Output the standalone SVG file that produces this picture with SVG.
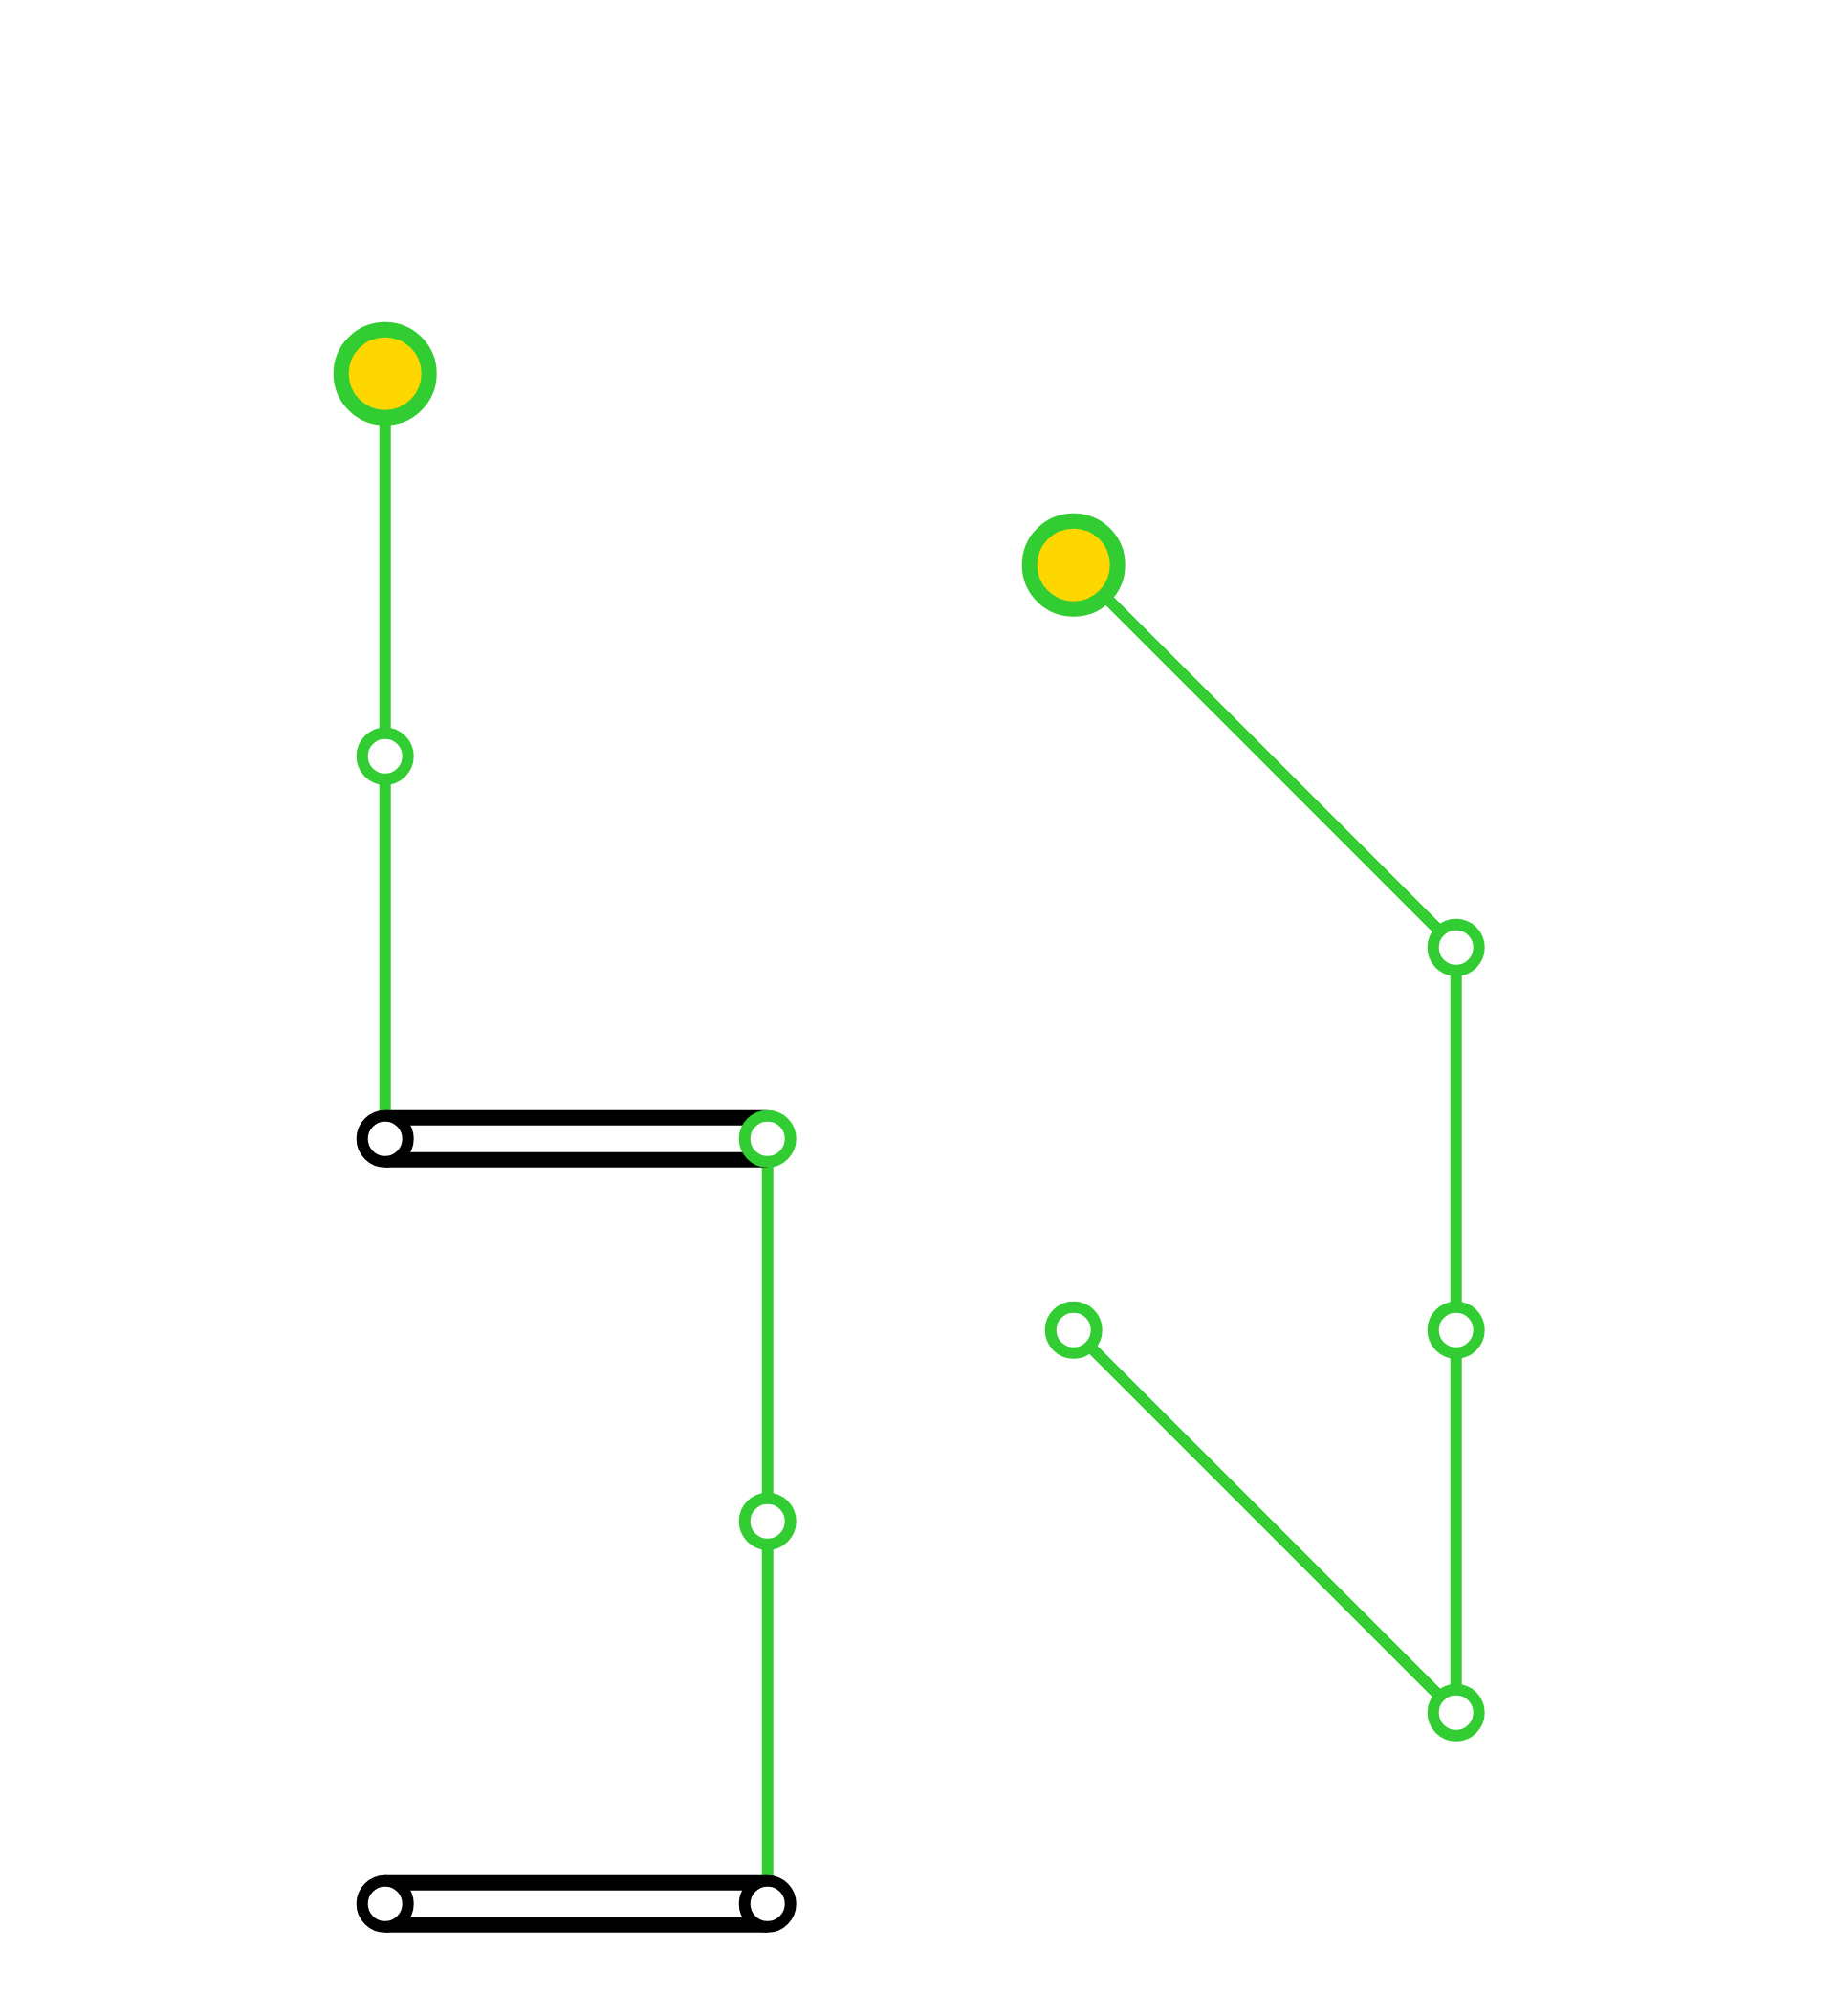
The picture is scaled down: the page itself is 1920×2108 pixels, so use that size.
<svg xmlns="http://www.w3.org/2000/svg" width="1920" height="2108" viewBox="0 0 1920 2108">
<style>
.g{stroke:#32CD32;stroke-width:12;fill:none}
.bo{stroke:#000;stroke-width:60;fill:none}
.bi{stroke:#fff;stroke-width:28;fill:none}
.big{fill:#FFD700;stroke:#32CD32;stroke-width:16}
.sg{fill:#fff;stroke:#32CD32;stroke-width:12}
.sb{fill:#fff;stroke:#000;stroke-width:12}
</style>
<rect width="1920" height="2108" fill="#fff"/>
<g id="connectors">
<path class="g" d="M402.7 390.7V1190.7"/>
<path class="g" d="M802.7 1190.7V1990.7"/>
<path class="g" d="M1122.7 590.7L1522.7 990.7V1790.7"/>
<path class="g" d="M1122.7 1390.7L1522.7 1790.7"/>
<path class="bo" d="M402.7 1190.7H802.7"/>
<path class="bi" d="M402.7 1190.7H802.7"/>
<path class="bo" d="M402.7 1990.7H802.7"/>
<path class="bi" d="M402.7 1990.7H802.7"/>
</g>
<g id="n1"><circle class="big" cx="402.7" cy="390.7" r="46"/></g>
<g id="n2"><circle class="sg" cx="402.7" cy="790.7" r="24"/></g>
<g id="n3"><circle class="sb" cx="402.7" cy="1190.7" r="24"/></g>
<g id="n4"><circle class="sg" cx="802.7" cy="1190.7" r="24"/></g>
<g id="n5"><circle class="sg" cx="802.7" cy="1590.7" r="24"/></g>
<g id="n6"><circle class="sb" cx="402.7" cy="1990.7" r="24"/></g>
<g id="n7"><circle class="sb" cx="802.7" cy="1990.7" r="24"/></g>
<g id="n8"><circle class="big" cx="1122.7" cy="590.7" r="46"/></g>
<g id="n9"><circle class="sg" cx="1522.7" cy="990.7" r="24"/></g>
<g id="n10"><circle class="sg" cx="1522.7" cy="1390.7" r="24"/></g>
<g id="n11"><circle class="sg" cx="1122.7" cy="1390.7" r="24"/></g>
<g id="n12"><circle class="sg" cx="1522.7" cy="1790.7" r="24"/></g>
</svg>
